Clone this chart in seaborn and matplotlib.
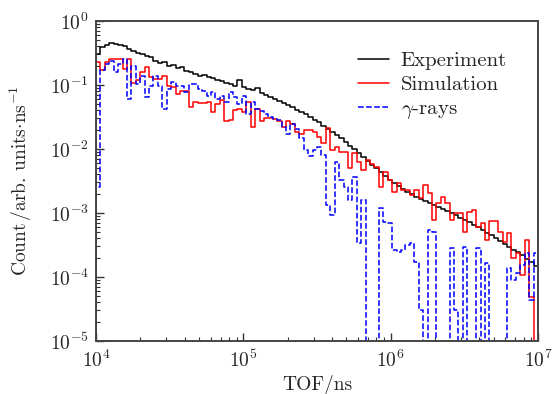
import numpy as np
import pandas as pd
import seaborn as sns
import matplotlib.pyplot as plt

# log10 of counts per bin, 100 log-spaced bins from 1e4 to 1e7 ns (None = empty bin)
experiment_log10 = [
    -0.52, -0.41, -0.38, -0.34, -0.36, -0.38, -0.39, -0.44, -0.47, -0.50,
    -0.52, -0.55, -0.56, -0.62, -0.66, -0.64, -0.70, -0.69, -0.73, -0.72,
    -0.78, -0.80, -0.83, -0.86, -0.84, -0.87, -0.89, -0.92, -0.94, -0.97,
    -0.98, -1.02, -0.92, -1.03, -1.06, -1.08, -1.05, -1.12, -1.16, -1.19,
    -1.22, -1.25, -1.28, -1.31, -1.34, -1.39, -1.42, -1.45, -1.50, -1.55,
    -1.58, -1.64, -1.69, -1.73, -1.78, -1.83, -1.89, -1.95, -2.00, -2.06,
    -2.13, -2.19, -2.25, -2.30, -2.36, -2.42, -2.48, -2.53, -2.58, -2.63,
    -2.67, -2.70, -2.75, -2.78, -2.81, -2.84, -2.88, -2.91, -2.94, -2.97,
    -3.00, -3.03, -3.08, -3.11, -3.14, -3.19, -3.22, -3.27, -3.31, -3.34,
    -3.39, -3.44, -3.48, -3.53, -3.58, -3.61, -3.66, -3.72, -3.77, -3.83]

simulation_log10 = [
    -0.64, -0.77, -0.64, -0.59, -0.59, -0.59, -0.75, -0.59, -0.97, -0.92,
    -0.80, -0.72, -0.87, -0.91, -0.91, -0.86, -1.02, -1.03, -1.14, -1.09,
    -1.09, -1.34, -1.27, -1.28, -1.28, -1.27, -1.42, -1.30, -1.23, -1.56,
    -1.55, -1.39, -1.38, -1.42, -1.27, -1.66, -1.38, -1.56, -1.52, -1.52,
    -1.53, -1.56, -1.66, -1.56, -1.61, -1.73, -1.77, -1.70, -1.70, -1.73,
    -1.81, -1.91, -1.67, -2.02, -1.97, -2.05, -2.05, -2.30, -2.06, -2.20,
    -2.33, -2.17, -2.23, -2.28, -2.59, -2.36, -2.48, -2.67, -2.53, -2.64,
    -2.64, -2.72, -2.64, -2.77, -2.56, -2.69, -3.11, -2.84, -2.75, -2.84,
    -3.11, -3.00, -3.00, -3.30, -2.98, -2.95, -3.22, -3.16, -3.42, -3.13,
    -3.13, -3.30, -3.45, -3.31, -3.70, -3.63, -3.97, -3.42, -4.31, None]

gamma_log10 = [
    -2.60, -0.77, -0.67, -0.63, -0.80, -0.67, -0.59, -1.22, -0.70, -0.98,
    -0.86, -1.19, -1.02, -0.86, -1.02, -1.38, -1.06, -0.95, -1.02, -1.02,
    -1.11, -0.98, -0.98, -1.06, -1.09, -1.17, -1.11, -1.22, -1.17, -1.27,
    -1.11, -1.19, -1.30, -1.17, -1.45, -1.27, -1.38, -1.41, -1.45, -1.50,
    -1.53, -1.55, -1.66, -1.77, -1.61, -1.69, -1.83, -2.02, -2.11, -2.02,
    -1.97, -2.09, -2.88, -3.03, -2.20, -2.48, -2.59, -2.80, -2.44, -3.47,
    -2.80, None, None, None, -2.92, -3.14, -3.16, -3.58, -3.61, -3.58,
    -3.50, -3.47, -3.77, -4.52, None, -3.27, -3.30, None, None, None,
    -3.55, -4.52, None, -3.53, None, None, -3.55, None, -3.78, None,
    None, None, None, -3.86, -4.05, -3.94, -3.81, -3.63, -4.36, -3.63]

labels = ['Experiment', 'Simulation', r'$\gamma$-rays']
colors = ['black', 'red', 'blue']
dashes = ['-', '-', '--']


def to_counts(logs):
    return np.array([0.0 if v is None else 10.0 ** v for v in logs])


def step_frame(logs, name):
    vals = to_counts(logs)
    edges = np.logspace(4, 7, len(vals) + 1)
    # start the step line from zero at the first edge, like a histogram outline
    x = np.concatenate([[edges[0]], edges])
    y = np.concatenate([[0.0], vals, [vals[-1]]])
    return pd.DataFrame({'TOF': x, 'count': y, 'series': name})


sns.set_style('ticks')
plt.rcParams['font.family'] = 'cmr10'
plt.rcParams['mathtext.fontset'] = 'cm'
plt.rcParams['axes.formatter.use_mathtext'] = True
plt.rcParams['axes.unicode_minus'] = False

fig = plt.figure(figsize=(5.53, 3.94), dpi=100)
ax = fig.add_axes([0.1736, 0.1345, 0.7993, 0.8122])

for logs, lab, col, ls in zip([experiment_log10, simulation_log10, gamma_log10],
                              labels, colors, dashes):
    df = step_frame(logs, lab)
    sns.lineplot(data=df, x='TOF', y='count', ax=ax, color=col, linestyle=ls,
                 linewidth=1.1, drawstyle='steps-post', sort=False,
                 estimator=None, label=lab)

ax.set_xscale('log')
ax.set_yscale('log')
ax.set_xlim(1e4, 1e7)
ax.set_ylim(1e-5, 1)

ax.set_xlabel('TOF/ns', fontsize=14, labelpad=3)
ax.set_ylabel(r'Count$\,$/arb. units$\cdot$ns$^{-1}$', fontsize=14, labelpad=11)
ax.tick_params(which='both', direction='in', top=False, right=False,
               labelsize=14, color='#333333')
ax.tick_params(which='major', length=6, width=1)
ax.tick_params(which='minor', length=3, width=0.8)
ax.tick_params(axis='x', which='major', pad=6)
ax.tick_params(axis='y', which='major', pad=5)
for sp in ax.spines.values():
    sp.set_color('#444444')
    sp.set_linewidth(1.4)

ax.legend(loc='upper left', bbox_to_anchor=(0.593, 0.905), frameon=False,
          fontsize=15, handlelength=1.5, handletextpad=0.55, labelspacing=0.26,
          borderaxespad=0, borderpad=0)

fig.savefig('out.png', dpi=100)
